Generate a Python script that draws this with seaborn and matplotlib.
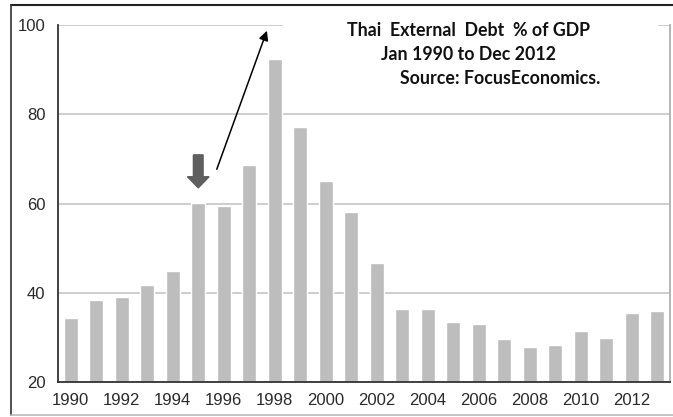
import matplotlib
matplotlib.use('Agg')
import matplotlib.pyplot as plt
import seaborn as sns
import pandas as pd
from matplotlib.lines import Line2D
from matplotlib.patches import Rectangle

sns.set_style('white')
plt.rcParams['font.family'] = ['Liberation Sans', 'DejaVu Sans']

years = list(range(1990, 2014))
debt_pct = [34.3, 38.4, 39.1, 41.7, 44.9, 60.1, 59.5, 68.7, 92.4, 77.2, 65.1, 58.0,
            46.7, 36.4, 36.4, 33.5, 33.1, 29.6, 27.8, 28.4, 31.4, 29.9, 35.5, 35.8]
tick_years = years[::2]
title_lines = ['Thai  External  Debt  % of GDP', 'Jan 1990 to Dec 2012', 'Source: FocusEconomics.']

df = pd.DataFrame({'year': [str(y) for y in years], 'debt': debt_pct})

fig = plt.figure(figsize=(6.73, 4.17), dpi=100)
ax = fig.add_axes([58 / 673, 35 / 417, 612 / 673, 357 / 417])

ax.set_axisbelow(True)
ax.yaxis.grid(True, color='#c9c9c9', linewidth=1.3)
sns.barplot(data=df, x='year', y='debt', color='#bdbdbd', saturation=1, width=0.56, ax=ax)

ax.set_ylim(20, 100)
ax.set_xlim(-0.5, len(years) - 0.5)
ax.set_yticks([20, 40, 60, 80, 100])
ax.set_xticks([years.index(y) for y in tick_years])
ax.set_xticklabels([str(y) for y in tick_years])
ax.set_xlabel('')
ax.set_ylabel('')
ax.tick_params(axis='y', length=5, width=1.2, color='#333333', pad=4, labelsize=12, labelcolor='#2a2a2a')
ax.tick_params(axis='x', length=0, pad=8, labelsize=12, labelcolor='#2a2a2a')

for side in ['left', 'bottom']:
    ax.spines[side].set_color('#333333')
    ax.spines[side].set_linewidth(1.3)
ax.spines['top'].set_visible(False)
ax.spines['right'].set_color('#b0b0b0')
ax.spines['right'].set_linewidth(1.3)

# dark marker arrow above 1995
ax.arrow(5, 70.9, 0, -7.4, width=0.38, head_width=0.85, head_length=2.5,
         length_includes_head=True, color='#5f5f5f', zorder=4)
# thin black arrow pointing up
ax.annotate('', xy=(7.73, 99.3), xytext=(5.69, 67.1),
            arrowprops=dict(arrowstyle='-|>', color='black', lw=1.1, mutation_scale=14),
            annotation_clip=False)

# white box behind the title, hiding the top gridline
fig.patches.append(Rectangle((283 / 673, (417 - 32) / 417), 375 / 673, 14 / 417,
                             transform=fig.transFigure, facecolor='white', edgecolor='none', zorder=1))
title_x = [347, 381, 400]
title_y = [30, 54, 78]
for txt, tx, ty in zip(title_lines, title_x, title_y):
    fig.text(tx / 673, 1 - ty / 417, txt, ha='left', va='center', fontsize=12.8,
             fontweight='bold', family=['Lato', 'DejaVu Sans'], color='#111111', zorder=3)

# outer frame
fig.add_artist(Line2D([11 / 673, 1], [1 - 5 / 417] * 2, transform=fig.transFigure, color='#222222', lw=1.5))
fig.add_artist(Line2D([11 / 673] * 2, [1 - 5 / 417, 1 - 415 / 417], transform=fig.transFigure, color='#333333', lw=1.2))
fig.add_artist(Line2D([11 / 673, 1], [1 - 415 / 417] * 2, transform=fig.transFigure, color='#bbbbbb', lw=1.2))

fig.savefig('out.png', dpi=100)
